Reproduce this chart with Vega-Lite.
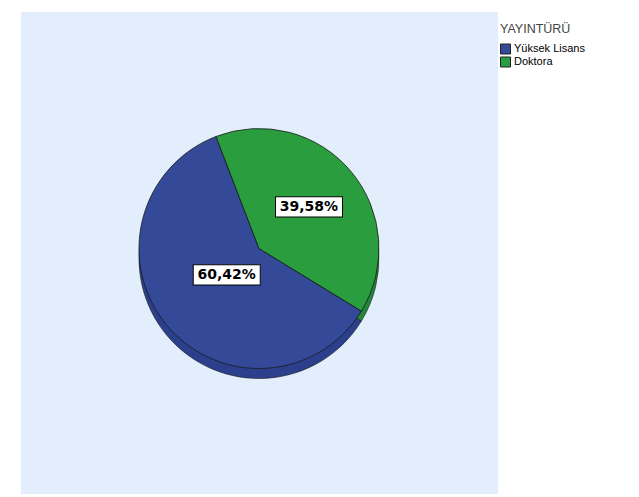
{
  "$schema": "https://vega.github.io/schema/vega-lite/v6.json",
  "width": 476,
  "height": 481,
  "autosize": {"type": "none"},
  "padding": {"left": 21, "top": 12, "right": 142, "bottom": 4},
  "background": "#ffffff",
  "view": {"fill": "#E2EEFB", "stroke": "#E2EEFB"},
  "data": {"values": [
    {"TUR": "Yüksek Lisans", "pct": 60.42, "label": "60,42%"},
    {"TUR": "Doktora", "pct": 39.58, "label": "39,58%"}
  ]},
  "encoding": {
    "theta": {"field": "pct", "type": "quantitative", "stack": true, "scale": {"range": [-0.367, 5.916]}},
    "order": {"field": "TUR", "sort": "ascending"}
  },
  "layer": [
    {
      "mark": {"type": "arc", "outerRadius": 120, "yOffset": 6, "stroke": "#1a1a1a", "strokeWidth": 0.6},
      "encoding": {
        "color": {"condition": {"test": "datum.TUR === 'Doktora'", "value": "#22863A"}, "value": "#2B3F8C"}
      }
    },
    {
      "mark": {"type": "arc", "outerRadius": 120, "yOffset": -4, "stroke": "#1a1a1a", "strokeWidth": 0.8},
      "encoding": {
        "color": {
          "field": "TUR", "type": "nominal", "title": "YAYINTÜRÜ",
          "scale": {"domain": ["Yüksek Lisans", "Doktora"], "range": ["#344A98", "#2A9E3E"]},
          "legend": {
            "orient": "none", "legendX": 479, "legendY": 11,
            "symbolType": "square", "symbolSize": 100, "symbolStrokeColor": "#222222", "symbolStrokeWidth": 1,
            "symbolOpacity": 1,
            "titleFont": "Liberation Sans", "titleFontSize": 12.5, "titleFontWeight": "normal", "titleColor": "#444444",
            "titlePadding": 8,
            "labelFont": "Liberation Sans", "labelFontSize": 11, "labelColor": "#000000", "labelOffset": 3,
            "rowPadding": -4
          }
        }
      }
    },
    {
      "mark": {"type": "text", "text": "▬", "font": "Liberation Sans", "fontSize": 67, "fill": "#ffffff", "stroke": "#000000", "strokeWidth": 1, "yOffset": -4, "dy": -10, "baseline": "middle", "align": "center",
        "radius": {"expr": "datum.TUR === 'Doktora' ? 65 : 42"}},
      "encoding": {}
    },
    {
      "mark": {"type": "text", "font": "DejaVu Sans", "fontWeight": "bold", "fontSize": 14, "fill": "#000000", "yOffset": -4, "baseline": "middle", "align": "center",
        "radius": {"expr": "datum.TUR === 'Doktora' ? 65 : 42"}},
      "encoding": {
        "text": {"field": "label"}
      }
    }
  ]
}
